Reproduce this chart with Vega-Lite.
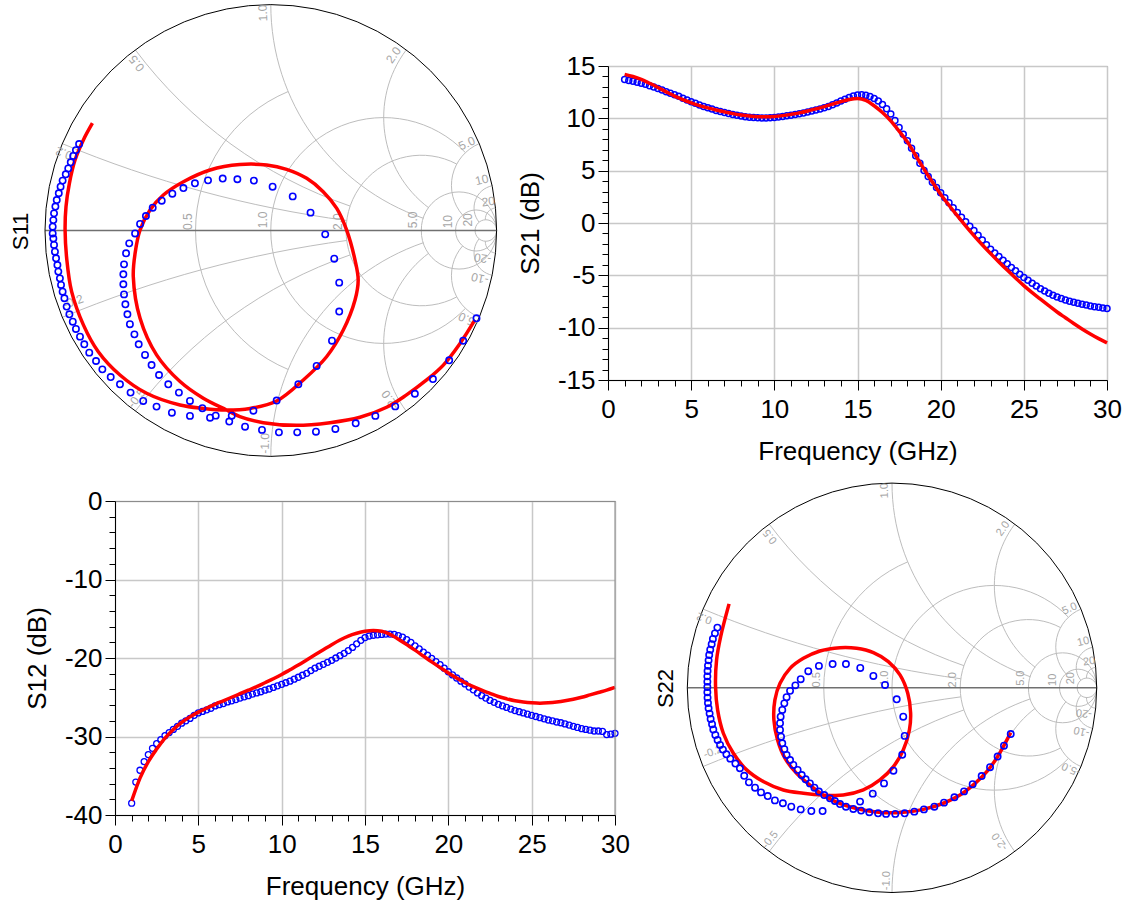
{
"$schema": "https://vega.github.io/schema/vega-lite/v6.json",
"autosize": {"type": "none"},
"padding": {"left": 115, "top": 66, "right": 1016, "bottom": 836},
"background": "#ffffff",
"columns": 2,
"bounds": "flush",
"align": {"row": "each", "column": "each"},
"spacing": {"row": 105, "column": 0},
"config": {
  "font": "Liberation Sans",
  "axis": {"labelFont": "Liberation Sans", "titleFont": "Liberation Sans", "labelColor": "#000000", "titleColor": "#000000", "titleFontWeight": "normal", "labelFontSize": 26, "titleFontSize": 26, "domainColor": "#000000", "tickColor": "#000000", "labelFlush": false, "labelOverlap": false}
},
"datasets": {
"o": [{"gr": 0, "gi": 0}],
"lbl": [
{"gr":-0.035,"gi":0.963,"t":"1.0","k":"x"},{"gr":-0.594,"gi":0.740,"t":"0.5","k":"x"},{"gr":-0.916,"gi":0.342,"t":"0.2","k":"x"},{"gr":0.543,"gi":0.777,"t":"2.0","k":"x"},{"gr":0.868,"gi":0.386,"t":"5.0","k":"x"},{"gr":0.934,"gi":0.224,"t":"10","k":"x"},{"gr":0.963,"gi":0.128,"t":"20","k":"x"},
{"gr":-0.026,"gi":-0.942,"t":"-1.0","k":"x"},{"gr":-0.594,"gi":-0.743,"t":"-0.5","k":"x"},{"gr":-0.875,"gi":-0.315,"t":"-0.2","k":"x"},{"gr":0.528,"gi":-0.751,"t":"-2.0","k":"x"},{"gr":0.875,"gi":-0.396,"t":"-5.0","k":"x"},{"gr":0.926,"gi":-0.212,"t":"-10","k":"x"},{"gr":0.938,"gi":-0.123,"t":"-20","k":"x"},
{"gr":-0.365,"gi":0.039,"t":"0.5","k":"r"},{"gr":-0.033,"gi":0.047,"t":"1.0","k":"r"},{"gr":0.299,"gi":0.039,"t":"2.0","k":"r"},{"gr":0.631,"gi":0.047,"t":"5.0","k":"r"},{"gr":0.786,"gi":0.039,"t":"10","k":"r"},{"gr":0.875,"gi":0.047,"t":"20","k":"r"}
],
"s11m": [
{"gr":-0.849,"gi":0.383},{"gr":-0.863,"gi":0.356},{"gr":-0.875,"gi":0.330},{"gr":-0.886,"gi":0.302},{"gr":-0.897,"gi":0.275},{"gr":-0.908,"gi":0.249},{"gr":-0.922,"gi":0.221},{"gr":-0.931,"gi":0.194},{"gr":-0.939,"gi":0.165},{"gr":-0.948,"gi":0.135},{"gr":-0.954,"gi":0.106},{"gr":-0.960,"gi":0.076},{"gr":-0.963,"gi":0.046},{"gr":-0.966,"gi":0.017},{"gr":-0.966,"gi":-0.013},{"gr":-0.963,"gi":-0.035},
{"gr":-0.960,"gi":-0.064},{"gr":-0.956,"gi":-0.094},{"gr":-0.951,"gi":-0.123},{"gr":-0.945,"gi":-0.153},{"gr":-0.941,"gi":-0.182},{"gr":-0.934,"gi":-0.212},{"gr":-0.929,"gi":-0.241},{"gr":-0.922,"gi":-0.271},{"gr":-0.914,"gi":-0.300},{"gr":-0.904,"gi":-0.337},{"gr":-0.892,"gi":-0.371},{"gr":-0.877,"gi":-0.404},{"gr":-0.863,"gi":-0.436},{"gr":-0.845,"gi":-0.470},{"gr":-0.826,"gi":-0.504},{"gr":-0.804,"gi":-0.541},{"gr":-0.774,"gi":-0.578},{"gr":-0.746,"gi":-0.615},{"gr":-0.709,"gi":-0.649},{"gr":-0.668,"gi":-0.681},{"gr":-0.621,"gi":-0.718},{"gr":-0.565,"gi":-0.755},{"gr":-0.506,"gi":-0.780},{"gr":-0.438,"gi":-0.807},{"gr":-0.358,"gi":-0.821},{"gr":-0.269,"gi":-0.829},{"gr":-0.184,"gi":-0.846},{"gr":-0.114,"gi":-0.869},{"gr":-0.039,"gi":-0.883},{"gr":0.036,"gi":-0.894},{"gr":0.117,"gi":-0.894},{"gr":0.200,"gi":-0.891},{"gr":0.286,"gi":-0.879},{"gr":0.376,"gi":-0.854},{"gr":0.463,"gi":-0.821},{"gr":0.551,"gi":-0.779},{"gr":0.638,"gi":-0.723},{"gr":0.718,"gi":-0.658},{"gr":0.790,"gi":-0.575},{"gr":0.852,"gi":-0.488},{"gr":0.911,"gi":-0.389},
{"gr":-0.601,"gi":-0.013},{"gr":-0.627,"gi":-0.057},{"gr":-0.641,"gi":-0.101},{"gr":-0.650,"gi":-0.150},{"gr":-0.653,"gi":-0.194},{"gr":-0.653,"gi":-0.238},{"gr":-0.650,"gi":-0.283},{"gr":-0.644,"gi":-0.327},{"gr":-0.635,"gi":-0.371},{"gr":-0.624,"gi":-0.415},{"gr":-0.604,"gi":-0.460},{"gr":-0.585,"gi":-0.504},{"gr":-0.557,"gi":-0.551},{"gr":-0.528,"gi":-0.596},{"gr":-0.495,"gi":-0.640},{"gr":-0.454,"gi":-0.681},{"gr":-0.407,"gi":-0.718},{"gr":-0.358,"gi":-0.755},{"gr":-0.303,"gi":-0.787},{"gr":-0.244,"gi":-0.820},{"gr":-0.173,"gi":-0.820},{"gr":-0.077,"gi":-0.798},{"gr":0.026,"gi":-0.753},{"gr":0.122,"gi":-0.681},{"gr":0.203,"gi":-0.600},{"gr":0.271,"gi":-0.488},{"gr":0.303,"gi":-0.359},{"gr":0.303,"gi":-0.231},{"gr":0.281,"gi":-0.125},{"gr":0.241,"gi":-0.017},{"gr":0.176,"gi":0.079},{"gr":0.097,"gi":0.151},{"gr":0.008,"gi":0.194},{"gr":-0.075,"gi":0.221},{"gr":-0.148,"gi":0.227},{"gr":-0.213,"gi":0.230},{"gr":-0.278,"gi":0.222},{"gr":-0.336,"gi":0.209},{"gr":-0.387,"gi":0.188},{"gr":-0.436,"gi":0.163},{"gr":-0.483,"gi":0.132},{"gr":-0.523,"gi":0.101},{"gr":-0.553,"gi":0.064},{"gr":-0.579,"gi":0.029}
],
"s11s": [
{"n":1,"gr":0.904,"gi":-0.396},{"n":2,"gr":0.838,"gi":-0.500},{"n":3,"gr":0.764,"gi":-0.596},{"n":4,"gr":0.690,"gi":-0.662},{"n":5,"gr":0.601,"gi":-0.728},{"n":6,"gr":0.513,"gi":-0.783},{"n":7,"gr":0.395,"gi":-0.827},{"n":8,"gr":0.262,"gi":-0.851},{"n":9,"gr":0.114,"gi":-0.863},{"n":10,"gr":-0.033,"gi":-0.851},{"n":11,"gr":-0.137,"gi":-0.824},{"n":12,"gr":-0.196,"gi":-0.795},{"n":13,"gr":-0.299,"gi":-0.743},{"n":14,"gr":-0.402,"gi":-0.669},{"n":15,"gr":-0.506,"gi":-0.551},{"n":16,"gr":-0.579,"gi":-0.389},{"n":17,"gr":-0.609,"gi":-0.204},{"n":18,"gr":-0.601,"gi":-0.101},{"n":19,"gr":-0.579,"gi":0.002},{"n":20,"gr":-0.535,"gi":0.091},{"n":21,"gr":-0.476,"gi":0.157},{"n":22,"gr":-0.387,"gi":0.216},{"n":23,"gr":-0.269,"gi":0.268},{"n":24,"gr":-0.137,"gi":0.292},{"n":25,"gr":-0.018,"gi":0.290},{"n":26,"gr":0.070,"gi":0.271},{"n":27,"gr":0.159,"gi":0.231},{"n":28,"gr":0.232,"gi":0.172},{"n":29,"gr":0.292,"gi":0.098},{"n":30,"gr":0.336,"gi":0.002},{"n":31,"gr":0.373,"gi":-0.131},{"n":32,"gr":0.387,"gi":-0.219},{"n":33,"gr":0.373,"gi":-0.308},{"n":34,"gr":0.321,"gi":-0.441},{"n":35,"gr":0.247,"gi":-0.559},{"n":36,"gr":0.144,"gi":-0.662},{"n":37,"gr":0.026,"gi":-0.755},{"n":38,"gr":-0.092,"gi":-0.788},{"n":39,"gr":-0.196,"gi":-0.795},{"n":40,"gr":-0.299,"gi":-0.788},{"n":41,"gr":-0.402,"gi":-0.773},{"n":42,"gr":-0.550,"gi":-0.721},{"n":43,"gr":-0.668,"gi":-0.640},{"n":44,"gr":-0.764,"gi":-0.537},{"n":45,"gr":-0.830,"gi":-0.418},{"n":46,"gr":-0.882,"gi":-0.271},{"n":47,"gr":-0.904,"gi":-0.123},{"n":48,"gr":-0.911,"gi":0.002},{"n":49,"gr":-0.907,"gi":0.106},{"n":50,"gr":-0.892,"gi":0.209},{"n":51,"gr":-0.867,"gi":0.312},{"n":52,"gr":-0.830,"gi":0.401},{"n":53,"gr":-0.790,"gi":0.475}
],
"s22m": [
{"gr":-0.853,"gi":0.294},{"gr":-0.865,"gi":0.266},{"gr":-0.875,"gi":0.239},{"gr":-0.881,"gi":0.213},{"gr":-0.888,"gi":0.186},{"gr":-0.893,"gi":0.160},{"gr":-0.896,"gi":0.134},{"gr":-0.899,"gi":0.108},{"gr":-0.901,"gi":0.082},{"gr":-0.902,"gi":0.056},{"gr":-0.902,"gi":0.030},{"gr":-0.902,"gi":0.004},{"gr":-0.902,"gi":-0.022},{"gr":-0.901,"gi":-0.048},{"gr":-0.899,"gi":-0.074},{"gr":-0.896,"gi":-0.100},{"gr":-0.891,"gi":-0.126},{"gr":-0.886,"gi":-0.152},{"gr":-0.879,"gi":-0.178},{"gr":-0.873,"gi":-0.204},{"gr":-0.863,"gi":-0.230},{"gr":-0.852,"gi":-0.255},{"gr":-0.840,"gi":-0.279},{"gr":-0.826,"gi":-0.302},{"gr":-0.809,"gi":-0.325},{"gr":-0.790,"gi":-0.346},{"gr":-0.765,"gi":-0.370},{"gr":-0.743,"gi":-0.393},{"gr":-0.722,"gi":-0.430},{"gr":-0.699,"gi":-0.462},{"gr":-0.669,"gi":-0.488},{"gr":-0.640,"gi":-0.511},{"gr":-0.607,"gi":-0.529},{"gr":-0.572,"gi":-0.550},{"gr":-0.533,"gi":-0.564},{"gr":-0.492,"gi":-0.581},{"gr":-0.446,"gi":-0.594},{"gr":-0.394,"gi":-0.602},{"gr":-0.339,"gi":-0.602},
{"gr":-0.156,"gi":-0.556},{"gr":-0.094,"gi":-0.517},{"gr":-0.039,"gi":-0.467},{"gr":0.007,"gi":-0.405},{"gr":0.050,"gi":-0.327},{"gr":0.062,"gi":-0.235},{"gr":0.055,"gi":-0.141},{"gr":0.023,"gi":-0.056},{"gr":-0.034,"gi":0.014},{"gr":-0.091,"gi":0.058},{"gr":-0.155,"gi":0.097},{"gr":-0.225,"gi":0.116},{"gr":-0.290,"gi":0.116},{"gr":-0.357,"gi":0.107},{"gr":-0.409,"gi":0.081},{"gr":-0.446,"gi":0.042},{"gr":-0.472,"gi":0.012},{"gr":-0.498,"gi":-0.015},{"gr":-0.515,"gi":-0.046},{"gr":-0.526,"gi":-0.076},{"gr":-0.536,"gi":-0.108},{"gr":-0.544,"gi":-0.141},{"gr":-0.547,"gi":-0.173},{"gr":-0.547,"gi":-0.206},{"gr":-0.542,"gi":-0.239},{"gr":-0.536,"gi":-0.271},{"gr":-0.526,"gi":-0.300},{"gr":-0.515,"gi":-0.328},{"gr":-0.498,"gi":-0.353},{"gr":-0.482,"gi":-0.377},{"gr":-0.461,"gi":-0.401},{"gr":-0.441,"gi":-0.426},{"gr":-0.422,"gi":-0.447},{"gr":-0.401,"gi":-0.467},{"gr":-0.379,"gi":-0.488},{"gr":-0.357,"gi":-0.507},{"gr":-0.331,"gi":-0.524},{"gr":-0.303,"gi":-0.540},{"gr":-0.279,"gi":-0.553},
{"gr":-0.254,"gi":-0.568},{"gr":-0.225,"gi":-0.581},{"gr":-0.189,"gi":-0.592},{"gr":-0.151,"gi":-0.600},{"gr":-0.111,"gi":-0.608},{"gr":-0.068,"gi":-0.613},{"gr":-0.029,"gi":-0.616},{"gr":0.016,"gi":-0.616},{"gr":0.062,"gi":-0.613},{"gr":0.109,"gi":-0.605},{"gr":0.156,"gi":-0.594},{"gr":0.207,"gi":-0.581},{"gr":0.254,"gi":-0.561},{"gr":0.305,"gi":-0.535},{"gr":0.352,"gi":-0.506},{"gr":0.394,"gi":-0.471},{"gr":0.438,"gi":-0.431},{"gr":0.479,"gi":-0.388},{"gr":0.516,"gi":-0.336},{"gr":0.547,"gi":-0.283},{"gr":0.580,"gi":-0.226}
],
"s22s": [
{"n":1,"gr":0.580,"gi":-0.219},{"n":2,"gr":0.544,"gi":-0.287},{"n":3,"gr":0.511,"gi":-0.344},{"n":4,"gr":0.463,"gi":-0.410},{"n":5,"gr":0.406,"gi":-0.467},{"n":6,"gr":0.332,"gi":-0.524},{"n":7,"gr":0.251,"gi":-0.564},{"n":8,"gr":0.153,"gi":-0.594},{"n":9,"gr":0.055,"gi":-0.608},{"n":10,"gr":-0.042,"gi":-0.610},{"n":11,"gr":-0.140,"gi":-0.597},{"n":12,"gr":-0.221,"gi":-0.577},{"n":13,"gr":-0.287,"gi":-0.551},{"n":14,"gr":-0.336,"gi":-0.524},{"n":15,"gr":-0.401,"gi":-0.475},{"n":16,"gr":-0.466,"gi":-0.418},{"n":17,"gr":-0.523,"gi":-0.344},{"n":18,"gr":-0.559,"gi":-0.255},{"n":19,"gr":-0.577,"gi":-0.157},{"n":20,"gr":-0.572,"gi":-0.059},{"n":21,"gr":-0.547,"gi":0.022},{"n":22,"gr":-0.498,"gi":0.095},{"n":23,"gr":-0.433,"gi":0.144},{"n":24,"gr":-0.352,"gi":0.180},{"n":25,"gr":-0.254,"gi":0.196},{"n":26,"gr":-0.173,"gi":0.193},{"n":27,"gr":-0.091,"gi":0.172},{"n":28,"gr":-0.018,"gi":0.128},{"n":29,"gr":0.039,"gi":0.063},{"n":30,"gr":0.077,"gi":-0.027},{"n":31,"gr":0.091,"gi":-0.124},{"n":32,"gr":0.085,"gi":-0.206},{"n":33,"gr":0.055,"gi":-0.304},{"n":34,"gr":0.007,"gi":-0.385},{"n":35,"gr":-0.059,"gi":-0.450},{"n":36,"gr":-0.140,"gi":-0.499},{"n":37,"gr":-0.238,"gi":-0.524},{"n":38,"gr":-0.336,"gi":-0.524},{"n":39,"gr":-0.433,"gi":-0.515},{"n":40,"gr":-0.531,"gi":-0.499},{"n":41,"gr":-0.629,"gi":-0.458},{"n":42,"gr":-0.710,"gi":-0.401},{"n":43,"gr":-0.775,"gi":-0.320},{"n":44,"gr":-0.824,"gi":-0.222},{"n":45,"gr":-0.852,"gi":-0.108},{"n":46,"gr":-0.862,"gi":0.006},{"n":47,"gr":-0.857,"gi":0.136},{"n":48,"gr":-0.837,"gi":0.250},{"n":49,"gr":-0.796,"gi":0.410}
],
"s21m": [
{"f":1,"v":13.7},{"f":1.25,"v":13.62},{"f":1.5,"v":13.55},{"f":1.75,"v":13.45},{"f":2,"v":13.35},{"f":2.25,"v":13.25},{"f":2.5,"v":13.12},{"f":2.75,"v":13.0},{"f":3,"v":12.85},{"f":3.25,"v":12.7},{"f":3.5,"v":12.55},{"f":3.75,"v":12.4},{"f":4,"v":12.25},{"f":4.25,"v":12.1},{"f":4.5,"v":11.92},{"f":4.75,"v":11.75},{"f":5,"v":11.58},{"f":5.25,"v":11.43},{"f":5.5,"v":11.28},{"f":5.75,"v":11.14},{"f":6,"v":11.0},{"f":6.25,"v":10.88},{"f":6.5,"v":10.76},{"f":6.75,"v":10.65},{"f":7,"v":10.55},{"f":7.25,"v":10.46},{"f":7.5,"v":10.37},{"f":7.75,"v":10.29},{"f":8,"v":10.22},{"f":8.25,"v":10.16},{"f":8.5,"v":10.11},{"f":8.75,"v":10.07},{"f":9,"v":10.05},{"f":9.25,"v":10.04},{"f":9.5,"v":10.04},{"f":9.75,"v":10.06},{"f":10,"v":10.09},{"f":10.25,"v":10.13},{"f":10.5,"v":10.18},{"f":10.75,"v":10.24},{"f":11,"v":10.3},{"f":11.25,"v":10.37},{"f":11.5,"v":10.44},{"f":11.75,"v":10.52},{"f":12,"v":10.6},{"f":12.25,"v":10.69},{"f":12.5,"v":10.79},{"f":12.75,"v":10.89},{"f":13,"v":11.0},{"f":13.25,"v":11.14},{"f":13.5,"v":11.3},{"f":13.75,"v":11.47},{"f":14,"v":11.65},{"f":14.25,"v":11.83},{"f":14.5,"v":12.0},{"f":14.75,"v":12.14},{"f":15,"v":12.24},{"f":15.25,"v":12.26},{"f":15.5,"v":12.2},{"f":15.75,"v":12.08},{"f":16,"v":11.9},{"f":16.25,"v":11.65},{"f":16.5,"v":11.33},{"f":16.75,"v":10.92},{"f":17,"v":10.42},{"f":17.25,"v":9.8},{"f":17.5,"v":9.12},{"f":17.75,"v":8.48},{"f":18,"v":7.85},{"f":18.25,"v":7.13},{"f":18.5,"v":6.42},{"f":18.75,"v":5.7},{"f":19,"v":5.02},{"f":19.25,"v":4.45},{"f":19.5,"v":3.9},{"f":19.75,"v":3.38},{"f":20,"v":2.9},{"f":20.25,"v":2.42},{"f":20.5,"v":1.94},{"f":20.75,"v":1.46},{"f":21,"v":1.0},{"f":21.25,"v":0.56},{"f":21.5,"v":0.13},{"f":21.75,"v":-0.3},{"f":22,"v":-0.72},{"f":22.25,"v":-1.18},{"f":22.5,"v":-1.63},{"f":22.75,"v":-2.07},{"f":23,"v":-2.5},{"f":23.25,"v":-2.86},{"f":23.5,"v":-3.21},{"f":23.75,"v":-3.56},{"f":24,"v":-3.9},{"f":24.25,"v":-4.24},{"f":24.5,"v":-4.57},{"f":24.75,"v":-4.89},{"f":25,"v":-5.2},{"f":25.25,"v":-5.48},{"f":25.5,"v":-5.76},{"f":25.75,"v":-6.03},{"f":26,"v":-6.28},{"f":26.25,"v":-6.5},{"f":26.5,"v":-6.7},{"f":26.75,"v":-6.9},{"f":27,"v":-7.08},{"f":27.25,"v":-7.22},{"f":27.5,"v":-7.35},{"f":27.75,"v":-7.47},{"f":28,"v":-7.58},{"f":28.25,"v":-7.67},{"f":28.5,"v":-7.76},{"f":28.75,"v":-7.84},{"f":29,"v":-7.92},{"f":29.25,"v":-7.99},{"f":29.5,"v":-8.06},{"f":29.75,"v":-8.12},{"f":30,"v":-8.18}
],
"s21s": [
{"f":1,"v":14.2},{"f":1.5,"v":14.0},{"f":2,"v":13.72},{"f":2.5,"v":13.35},{"f":3,"v":12.95},{"f":3.5,"v":12.53},{"f":4,"v":12.12},{"f":4.5,"v":11.78},{"f":5,"v":11.48},{"f":5.5,"v":11.22},{"f":6,"v":11.0},{"f":6.5,"v":10.8},{"f":7,"v":10.62},{"f":7.5,"v":10.45},{"f":8,"v":10.32},{"f":8.5,"v":10.22},{"f":9,"v":10.16},{"f":9.5,"v":10.15},{"f":10,"v":10.18},{"f":10.5,"v":10.26},{"f":11,"v":10.38},{"f":11.5,"v":10.52},{"f":12,"v":10.7},{"f":12.5,"v":10.9},{"f":13,"v":11.12},{"f":13.5,"v":11.36},{"f":14,"v":11.6},{"f":14.5,"v":11.8},{"f":15,"v":11.9},{"f":15.5,"v":11.72},{"f":16,"v":11.2},{"f":16.5,"v":10.55},{"f":17,"v":9.75},{"f":17.5,"v":8.78},{"f":18,"v":7.75},{"f":18.5,"v":6.45},{"f":19,"v":5.15},{"f":19.5,"v":3.92},{"f":20,"v":2.75},{"f":20.5,"v":1.7},{"f":21,"v":0.7},{"f":21.5,"v":-0.27},{"f":22,"v":-1.2},{"f":22.5,"v":-2.08},{"f":23,"v":-2.92},{"f":23.5,"v":-3.72},{"f":24,"v":-4.5},{"f":24.5,"v":-5.25},{"f":25,"v":-5.98},{"f":25.5,"v":-6.65},{"f":26,"v":-7.28},{"f":26.5,"v":-7.9},{"f":27,"v":-8.5},{"f":27.5,"v":-9.05},{"f":28,"v":-9.6},{"f":28.5,"v":-10.12},{"f":29,"v":-10.6},{"f":29.5,"v":-11.05},{"f":30,"v":-11.45}
],
"s12m": [
{"f":1,"v":-38.5},{"f":1.25,"v":-35.8},{"f":1.5,"v":-34.3},{"f":1.75,"v":-33.2},{"f":2,"v":-32.3},{"f":2.25,"v":-31.5},{"f":2.5,"v":-30.9},{"f":2.75,"v":-30.4},{"f":3,"v":-29.9},{"f":3.25,"v":-29.5},{"f":3.5,"v":-29.1},{"f":3.75,"v":-28.7},{"f":4,"v":-28.3},{"f":4.25,"v":-28.0},{"f":4.5,"v":-27.7},{"f":4.75,"v":-27.3},{"f":5,"v":-27.0},{"f":5.25,"v":-26.8},{"f":5.5,"v":-26.6},{"f":5.75,"v":-26.4},{"f":6,"v":-26.1},{"f":6.25,"v":-25.95},{"f":6.5,"v":-25.8},{"f":6.75,"v":-25.6},{"f":7,"v":-25.45},{"f":7.25,"v":-25.3},{"f":7.5,"v":-25.1},{"f":7.75,"v":-24.95},{"f":8,"v":-24.8},{"f":8.25,"v":-24.6},{"f":8.5,"v":-24.45},{"f":8.75,"v":-24.3},{"f":9,"v":-24.1},{"f":9.25,"v":-23.95},{"f":9.5,"v":-23.75},{"f":9.75,"v":-23.55},{"f":10,"v":-23.35},{"f":10.25,"v":-23.15},{"f":10.5,"v":-22.95},{"f":10.75,"v":-22.7},{"f":11,"v":-22.45},{"f":11.25,"v":-22.2},{"f":11.5,"v":-21.95},{"f":11.75,"v":-21.6},{"f":12,"v":-21.3},{"f":12.25,"v":-21.05},{"f":12.5,"v":-20.8},{"f":12.75,"v":-20.55},{"f":13,"v":-20.3},{"f":13.25,"v":-20.0},{"f":13.5,"v":-19.7},{"f":13.75,"v":-19.4},{"f":14,"v":-19.05},{"f":14.25,"v":-18.65},{"f":14.5,"v":-18.2},{"f":14.75,"v":-17.75},{"f":15,"v":-17.4},{"f":15.25,"v":-17.2},{"f":15.5,"v":-17.1},{"f":15.75,"v":-17.05},{"f":16,"v":-17.0},{"f":16.25,"v":-16.95},{"f":16.5,"v":-16.95},{"f":16.75,"v":-17.0},{"f":17,"v":-17.15},{"f":17.25,"v":-17.35},{"f":17.5,"v":-17.65},{"f":17.75,"v":-18.0},{"f":18,"v":-18.45},{"f":18.25,"v":-18.85},{"f":18.5,"v":-19.25},{"f":18.75,"v":-19.65},{"f":19,"v":-20.05},{"f":19.25,"v":-20.45},{"f":19.5,"v":-20.85},{"f":19.75,"v":-21.3},{"f":20,"v":-21.75},{"f":20.25,"v":-22.15},{"f":20.5,"v":-22.55},{"f":20.75,"v":-22.95},{"f":21,"v":-23.3},{"f":21.25,"v":-23.7},{"f":21.5,"v":-24.05},{"f":21.75,"v":-24.45},{"f":22,"v":-24.8},{"f":22.25,"v":-25.1},{"f":22.5,"v":-25.4},{"f":22.75,"v":-25.65},{"f":23,"v":-25.9},{"f":23.25,"v":-26.1},{"f":23.5,"v":-26.3},{"f":23.75,"v":-26.5},{"f":24,"v":-26.7},{"f":24.25,"v":-26.85},{"f":24.5,"v":-27.0},{"f":24.75,"v":-27.15},{"f":25,"v":-27.3},{"f":25.25,"v":-27.45},{"f":25.5,"v":-27.6},{"f":25.75,"v":-27.75},{"f":26,"v":-27.9},{"f":26.25,"v":-28.0},{"f":26.5,"v":-28.15},{"f":26.75,"v":-28.25},{"f":27,"v":-28.4},{"f":27.25,"v":-28.55},{"f":27.5,"v":-28.7},{"f":27.75,"v":-28.85},{"f":28,"v":-29.0},{"f":28.25,"v":-29.1},{"f":28.5,"v":-29.2},{"f":28.75,"v":-29.3},{"f":29,"v":-29.3},{"f":29.25,"v":-29.35},{"f":29.5,"v":-29.75},{"f":29.75,"v":-29.7},{"f":30,"v":-29.6}
],
"s12s": [
{"f":1,"v":-38.2},{"f":1.5,"v":-35.3},{"f":2,"v":-33.2},{"f":2.5,"v":-31.6},{"f":3,"v":-30.2},{"f":3.5,"v":-29.1},{"f":4,"v":-28.2},{"f":4.5,"v":-27.5},{"f":5,"v":-26.9},{"f":5.5,"v":-26.4},{"f":6,"v":-25.9},{"f":6.5,"v":-25.45},{"f":7,"v":-25.0},{"f":7.5,"v":-24.55},{"f":8,"v":-24.1},{"f":8.5,"v":-23.65},{"f":9,"v":-23.15},{"f":9.5,"v":-22.65},{"f":10,"v":-22.1},{"f":10.5,"v":-21.5},{"f":11,"v":-20.9},{"f":11.5,"v":-20.25},{"f":12,"v":-19.6},{"f":12.5,"v":-18.95},{"f":13,"v":-18.3},{"f":13.5,"v":-17.7},{"f":14,"v":-17.2},{"f":14.5,"v":-16.85},{"f":15,"v":-16.6},{"f":15.5,"v":-16.5},{"f":16,"v":-16.6},{"f":16.5,"v":-17.0},{"f":17,"v":-17.6},{"f":17.5,"v":-18.3},{"f":18,"v":-19.0},{"f":18.5,"v":-19.75},{"f":19,"v":-20.5},{"f":19.5,"v":-21.2},{"f":20,"v":-21.9},{"f":20.5,"v":-22.55},{"f":21,"v":-23.15},{"f":21.5,"v":-23.65},{"f":22,"v":-24.1},{"f":22.5,"v":-24.5},{"f":23,"v":-24.9},{"f":23.5,"v":-25.2},{"f":24,"v":-25.45},{"f":24.5,"v":-25.6},{"f":25,"v":-25.7},{"f":25.5,"v":-25.75},{"f":26,"v":-25.7},{"f":26.5,"v":-25.6},{"f":27,"v":-25.45},{"f":27.5,"v":-25.25},{"f":28,"v":-25.0},{"f":28.5,"v":-24.7},{"f":29,"v":-24.4},{"f":29.5,"v":-24.1},{"f":30,"v":-23.75}
]
},
"concat": [
{
 "width": 433, "height": 330,
 "view": {"stroke": null},
 "encoding": {
  "x": {"field": "gr", "type": "quantitative", "scale": {"domain": [-0.68999, 1.22764], "nice": false, "zero": false}, "axis": null},
  "y": {"field": "gi", "type": "quantitative", "scale": {"domain": [-0.73295, 0.72852], "nice": false, "zero": false}, "axis": {"title": "S11", "labels": false, "ticks": false, "domain": false, "grid": false, "offset": 83, "titlePadding": 0, "titleFontSize": 22}}
 },
 "layer": [
  {"data": {"name": "o"}, "mark": {"type": "point", "shape": "M0.0769,-0.6154A0.6667,0.6667,0,0,0,0.0769,0.6154M0.862,-0.3448A0.5,0.5,0,1,0,0.862,0.3448M0.8235,-0.2941A0.3333,0.3333,0,1,0,0.8235,0.2941M0.6667,0A0.1667,0.1667,0,1,0,1,0A0.1667,0.1667,0,1,0,0.6667,0M0.8182,0A0.0909,0.0909,0,1,0,1,0A0.0909,0.0909,0,1,0,0.8182,0M0.9048,0A0.0476,0.0476,0,1,0,1,0A0.0476,0.0476,0,1,0,0.9048,0M-0.9231,-0.3846A5,5,0,0,0,0.3363,-0.0442M-0.9231,0.3846A5,5,0,0,1,0.3363,0.0442M-0.6,-0.8A2,2,0,0,0,0.3514,-0.1081M-0.6,0.8A2,2,0,0,1,0.3514,0.1081M0,-1A1,1,0,0,0,0.6757,-0.0541M0,1A1,1,0,0,1,0.6757,0.0541M0.6,-0.8A0.5,0.5,0,0,0,0.7,-0.1M0.6,0.8A0.5,0.5,0,0,1,0.7,0.1M0.9231,-0.3846A0.2,0.2,0,0,0,0.8493,-0.0685M0.9231,0.3846A0.2,0.2,0,0,1,0.8493,0.0685M0.9802,-0.198A0.1,0.1,0,0,0,0.9224,-0.037M0.9802,0.198A0.1,0.1,0,0,1,0.9224,0.037M0.995,-0.0998A0.05,0.05,0,0,0,0.9501,-0.0476M0.995,0.0998A0.05,0.05,0,0,1,0.9501,0.0476", "size": 203943, "filled": false, "stroke": "#bdbdbd", "strokeWidth": 1, "opacity": 1}},
  {"data": {"name": "o"}, "mark": {"type": "point", "shape": "M-1,0L1,0", "size": 203943, "filled": false, "stroke": "#707070", "strokeWidth": 1.5, "opacity": 1}},
  {"data": {"name": "o"}, "mark": {"type": "point", "shape": "circle", "size": 203943, "filled": false, "stroke": "#000000", "strokeWidth": 1, "opacity": 1}},
  {"data": {"name": "lbl"}, "transform": [{"calculate": "datum.k == 'r' ? -90 : (datum.gi >= 0 ? -atan2(datum.gi, datum.gr) * 180 / PI : 180 - atan2(datum.gi, datum.gr) * 180 / PI)", "as": "a"}], "mark": {"type": "text", "fontSize": 12, "color": "#a6a6a6"}, "encoding": {"text": {"field": "t"}, "angle": {"field": "a", "type": "quantitative", "scale": null}}},
  {"data": {"name": "s11s"}, "mark": {"type": "line", "color": "#ff0000", "strokeWidth": 3.5, "interpolate": "catmull-rom"}, "encoding": {"order": {"field": "n", "type": "quantitative"}}},
  {"data": {"name": "s11m"}, "mark": {"type": "point", "shape": "circle", "filled": false, "color": "#0000ff", "size": 40, "strokeWidth": 1.6, "opacity": 1}}
 ]
},
{
 "width": 499, "height": 314,
 "view": {"stroke": "#8c8c8c", "strokeWidth": 1},
 "resolve": {"axis": {"x": "independent", "y": "independent"}},
 "layer": [
  {"data": {"name": "s21m"}, "mark": {"type": "point", "shape": "circle", "filled": false, "color": "#0000ff", "size": 36, "strokeWidth": 1.5, "opacity": 1},
   "encoding": {
    "x": {"field": "f", "type": "quantitative", "scale": {"domain": [0, 30], "nice": false, "zero": false}, "axis": {"orient": "bottom", "values": [0,5,10,15,20,25,30], "grid": true, "gridColor": "#c8c8c8", "gridWidth": 1.5, "tickSize": 10, "labelPadding": 6, "title": "Frequency (GHz)", "titlePadding": 16}},
    "y": {"field": "v", "type": "quantitative", "scale": {"domain": [-15, 15], "nice": false, "zero": false}, "axis": {"orient": "left", "values": [-15,-10,-5,0,5,10,15], "labelExpr": "'' + datum.value", "grid": true, "gridColor": "#c8c8c8", "gridWidth": 1.5, "tickSize": 10, "labelPadding": 3, "title": "S21 (dB)", "titlePadding": 14}}
   }},
  {"data": {"name": "s21s"}, "mark": {"type": "line", "color": "#ff0000", "strokeWidth": 3.5, "interpolate": "monotone"},
   "encoding": {
    "x": {"field": "f", "type": "quantitative", "scale": {"domain": [0, 30], "nice": false, "zero": false}, "axis": {"orient": "bottom", "values": [1,2,3,4,6,7,8,9,11,12,13,14,16,17,18,19,21,22,23,24,26,27,28,29], "tickSize": 6, "labels": false, "domain": false, "grid": false, "title": null}},
    "y": {"field": "v", "type": "quantitative", "scale": {"domain": [-15, 15], "nice": false, "zero": false}, "axis": {"orient": "left", "values": [-14,-13,-12,-11,-9,-8,-7,-6,-4,-3,-2,-1,1,2,3,4,6,7,8,9,11,12,13,14], "tickSize": 6, "labels": false, "domain": false, "grid": false, "title": null}}
   }}
 ]
},
{
 "width": 493, "height": 314,
 "view": {"stroke": null},
 "resolve": {"axis": {"x": "independent", "y": "independent"}},
 "layer": [
  {"data": {"name": "s12m"}, "mark": {"type": "point", "shape": "circle", "filled": false, "color": "#0000ff", "size": 36, "strokeWidth": 1.3, "opacity": 1},
   "encoding": {
    "x": {"field": "f", "type": "quantitative", "scale": {"domain": [0, 30], "range": [0, 500], "nice": false, "zero": false}, "axis": {"orient": "bottom", "values": [0,5,10,15,20,25,30], "grid": true, "gridColor": "#c8c8c8", "gridWidth": 1.5, "tickSize": 10, "labelPadding": 6, "title": "Frequency (GHz)", "titlePadding": 16}},
    "y": {"field": "v", "type": "quantitative", "scale": {"domain": [-40, 0], "nice": false, "zero": false}, "axis": {"orient": "left", "values": [-40,-30,-20,-10,0], "labelExpr": "'' + datum.value", "grid": true, "gridColor": "#c8c8c8", "gridWidth": 1.5, "tickSize": 10, "labelPadding": 3, "title": "S12 (dB)", "titlePadding": 14}}
   }},
  {"data": {"name": "s12s"}, "mark": {"type": "line", "color": "#ff0000", "strokeWidth": 3.5, "interpolate": "monotone"},
   "encoding": {
    "x": {"field": "f", "type": "quantitative", "scale": {"domain": [0, 30], "range": [0, 500], "nice": false, "zero": false}, "axis": {"orient": "bottom", "values": [1,2,3,4,6,7,8,9,11,12,13,14,16,17,18,19,21,22,23,24,26,27,28,29], "tickSize": 6, "labels": false, "domain": false, "grid": false, "title": null}},
    "y": {"field": "v", "type": "quantitative", "scale": {"domain": [-40, 0], "nice": false, "zero": false}, "axis": {"orient": "left", "values": [-38,-36,-34,-32,-28,-26,-24,-22,-18,-16,-14,-12,-8,-6,-4,-2], "tickSize": 6, "labels": false, "domain": false, "grid": false, "title": null}}
   }},
  {"data": {"values": [{"f": 30}]}, "mark": {"type": "rule", "color": "#8c8c8c", "strokeWidth": 1},
   "encoding": {
    "x": {"field": "f", "type": "quantitative", "scale": {"domain": [0, 30], "range": [0, 500], "nice": false, "zero": false}, "axis": {"orient": "top", "domain": true, "domainColor": "#8c8c8c", "ticks": false, "labels": false, "grid": false, "title": null}}
   }}
 ]
},
{
 "width": 497, "height": 374,
 "view": {"stroke": null},
 "encoding": {
  "x": {"field": "gr", "type": "quantitative", "scale": {"domain": [-1.3874, 1.04055], "nice": false, "zero": false}, "axis": null},
  "y": {"field": "gi", "type": "quantitative", "scale": {"domain": [-0.91451, 0.91256], "nice": false, "zero": false}, "axis": {"title": "S22", "labels": false, "ticks": false, "domain": false, "grid": false, "offset": -69, "titlePadding": 0, "titleFontSize": 22}}
 },
 "layer": [
  {"data": {"name": "o"}, "mark": {"type": "point", "shape": "M0.0769,-0.6154A0.6667,0.6667,0,0,0,0.0769,0.6154M0.862,-0.3448A0.5,0.5,0,1,0,0.862,0.3448M0.8235,-0.2941A0.3333,0.3333,0,1,0,0.8235,0.2941M0.6667,0A0.1667,0.1667,0,1,0,1,0A0.1667,0.1667,0,1,0,0.6667,0M0.8182,0A0.0909,0.0909,0,1,0,1,0A0.0909,0.0909,0,1,0,0.8182,0M0.9048,0A0.0476,0.0476,0,1,0,1,0A0.0476,0.0476,0,1,0,0.9048,0M-0.9231,-0.3846A5,5,0,0,0,0.3363,-0.0442M-0.9231,0.3846A5,5,0,0,1,0.3363,0.0442M-0.6,-0.8A2,2,0,0,0,0.3514,-0.1081M-0.6,0.8A2,2,0,0,1,0.3514,0.1081M0,-1A1,1,0,0,0,0.6757,-0.0541M0,1A1,1,0,0,1,0.6757,0.0541M0.6,-0.8A0.5,0.5,0,0,0,0.7,-0.1M0.6,0.8A0.5,0.5,0,0,1,0.7,0.1M0.9231,-0.3846A0.2,0.2,0,0,0,0.8493,-0.0685M0.9231,0.3846A0.2,0.2,0,0,1,0.8493,0.0685M0.9802,-0.198A0.1,0.1,0,0,0,0.9224,-0.037M0.9802,0.198A0.1,0.1,0,0,1,0.9224,0.037M0.995,-0.0998A0.05,0.05,0,0,0,0.9501,-0.0476M0.995,0.0998A0.05,0.05,0,0,1,0.9501,0.0476", "size": 167608, "filled": false, "stroke": "#bdbdbd", "strokeWidth": 1, "opacity": 1}},
  {"data": {"name": "o"}, "mark": {"type": "point", "shape": "M-1,0L1,0", "size": 167608, "filled": false, "stroke": "#707070", "strokeWidth": 1.5, "opacity": 1}},
  {"data": {"name": "o"}, "mark": {"type": "point", "shape": "circle", "size": 167608, "filled": false, "stroke": "#000000", "strokeWidth": 1, "opacity": 1}},
  {"data": {"name": "lbl"}, "transform": [{"calculate": "datum.k == 'r' ? -90 : (datum.gi >= 0 ? -atan2(datum.gi, datum.gr) * 180 / PI : 180 - atan2(datum.gi, datum.gr) * 180 / PI)", "as": "a"}], "mark": {"type": "text", "fontSize": 11, "color": "#a6a6a6"}, "encoding": {"text": {"field": "t"}, "angle": {"field": "a", "type": "quantitative", "scale": null}}},
  {"data": {"name": "s22s"}, "mark": {"type": "line", "color": "#ff0000", "strokeWidth": 3.5, "interpolate": "catmull-rom"}, "encoding": {"order": {"field": "n", "type": "quantitative"}}},
  {"data": {"name": "s22m"}, "mark": {"type": "point", "shape": "circle", "filled": false, "color": "#0000ff", "size": 40, "strokeWidth": 1.6, "opacity": 1}}
 ]
}
]
}
